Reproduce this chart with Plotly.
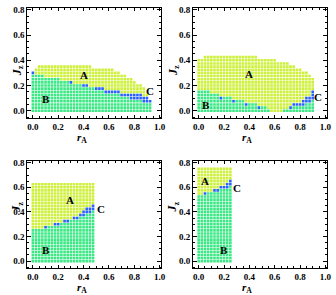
import plotly.graph_objects as go

STEP = 0.025

# ---- Panel 1 ----
r1 = [0, .025, .05, .075, .1, .125, .15, .175, .2, .225, .25, .275, .3, .325, .35, .375, .4, .425, .45,
      .475, .5, .525, .55, .575, .6, .625, .65, .675, .7, .725, .75, .775, .8, .825, .85, .875, .9, .925]
top1 = [.30, .325] + [.35] * 17 + [.325] * 7 + [.30, .30, .275, .275, .25, .25, .225, .20, .20, .175, .125, .075]
b1 = [.275] * 4 + [.25] * 5 + [.225] * 3 + [.20] * 4 + [.175] * 4 + [.15] * 3 + [.125] * 5 + [.10] * 3 + [.075] * 4 + [.05] * 3
c1_r = [0, .3, .4, .425, .5, .525, .55, .575, .6, .625, .65, .675, .7, .725, .75, .775, .8, .825, .85,
        .775, .8, .825, .85, .875, .9, .875, .9, .925]
c1_J = [.30, .225, .20, .20, .175, .175, .175, .15, .15, .15, .15, .15, .125, .125, .125, .125, .125, .125, .125,
        .10, .10, .10, .10, .10, .10, .075, .075, .075]

# ---- Panel 2 ----
r2 = [0, .025, .05, .075, .1, .125, .15, .175, .2, .225, .25, .275, .3, .325, .35, .375, .4, .425, .45,
      .475, .5, .525, .55, .575, .6, .625, .65, .675, .7, .725, .75, .775, .8, .825, .85, .875, .9]
top2 = [.40, .40] + [.425] * 17 + [.40] * 6 + [.375] * 4 + [.35, .35, .325, .325, .30, .30, .275, .25]
b2 = [.15] * 4 + [.125] * 3 + [.10] * 4 + [.075] * 4 + [.05] * 4 + [.025] * 3 + [0] + [-1] * 4 + [0, 0] + [.025] * 5 + [.05, .05, .075]
c2_r = [.175, .275, .375, .475, .725, .75, .775, .8, .825, .825, .85, .875, .85, .875, .9, .9, .9]
c2_J = [.10, .075, .05, .025, .025, .05, .05, .05, .05, .075, .075, .075, .10, .10, .10, .125, .15]

# ---- Panel 3 ----
r3 = [0, .025, .05, .075, .1, .125, .15, .175, .2, .225, .25, .275, .3, .325, .35, .375, .4, .425, .45, .475]
top3 = [.625] * 20
b3 = [.25] * 5 + [.275] * 4 + [.30] * 3 + [.325] * 3 + [.35, .35, .375, .375, .40]
c3_r = [.1, .175, .2, .25, .275, .325, .35, .375, .4, .4, .425, .45, .425, .45, .475, .475]
c3_J = [.275, .30, .30, .325, .325, .35, .35, .375, .375, .40, .40, .40, .425, .425, .425, .45]

# ---- Panel 4 ----
r4 = [0, .025, .05, .075, .1, .125, .15, .175, .2, .225, .25]
top4 = [.75] * 11
b4 = [.525] * 3 + [.55] * 4 + [.575] * 3 + [.60]
c4_r = [.05, .125, .15, .175, .2, .225, .225, .25, .25]
c4_J = [.55, .575, .575, .60, .60, .60, .625, .625, .65]

panels = [
    dict(r=r1, top=top1, b=b1, cr=c1_r, cJ=c1_J,
         lab=[("A", .40, .28), ("B", .10, .09), ("C", .925, .155)]),
    dict(r=r2, top=top2, b=b2, cr=c2_r, cJ=c2_J,
         lab=[("A", .40, .295), ("B", .06, .045), ("C", .945, .11)]),
    dict(r=r3, top=top3, b=b3, cr=c3_r, cJ=c3_J,
         lab=[("A", .29, .50), ("B", .10, .093), ("C", .54, .424)]),
    dict(r=r4, top=top4, b=b4, cr=c4_r, cJ=c4_J,
         lab=[("A", .05, .653), ("B", .20, .093), ("C", .305, .595)]),
]

YEL = "#cdf03a"
GRN = "#3ae884"
BLU = "#2a62ff"
FONT = "Liberation Serif, Times New Roman, serif"

W, H = 336, 295
xdom = [[27.7 / W, 163.3 / W], [196 / W, 331.6 / W]]
ydom = [[1 - 116.5 / H, 1 - 5 / H], [1 - 268.2 / H, 1 - 159.5 / H]]
title_gap = [20, 19.5]

fig = go.Figure()


def build(p):
    cset = set((round(r / STEP), round(j / STEP)) for r, j in zip(p["cr"], p["cJ"]))
    A = ([], [])
    B = ([], [])
    for r, t, bb in zip(p["r"], p["top"], p["b"]):
        n = round(t / STEP)
        for k in range(n + 1):
            J = k * STEP
            if (round(r / STEP), k) in cset:
                continue
            if J <= bb + 1e-9:
                B[0].append(r); B[1].append(J)
            else:
                A[0].append(r); A[1].append(J)
    return A, B


for idx, p in enumerate(panels):
    row, col = idx // 2, idx % 2
    ax = "" if idx == 0 else str(idx + 1)
    A, B = build(p)
    mk = dict(symbol="square", size=2.6, line=dict(width=0))
    for (xs, ys), c in [(A, YEL), (B, GRN), ((p["cr"], p["cJ"]), BLU)]:
        fig.add_trace(go.Scatter(x=xs, y=ys, mode="markers", marker=dict(color=c, **mk),
                                 xaxis="x" + ax, yaxis="y" + ax, showlegend=False, hoverinfo="skip"))
    for t, x, y in p["lab"]:
        fig.add_annotation(x=x, y=y, xref="x" + ax, yref="y" + ax, text="<b>%s</b>" % t, showarrow=False,
                           font=dict(family=FONT, size=11, color="black"))
    common = dict(showline=True, linecolor="black", linewidth=1, mirror="ticks", ticks="inside",
                  ticklen=3.5, tickwidth=0.8, tickcolor="black", showgrid=False, zeroline=False,
                  tickfont=dict(family=FONT, size=9, color="black"),
                  minor=dict(ticks="inside", ticklen=2, tickwidth=0.6, tickcolor="black", dtick=0.05, showgrid=False))
    fig.update_layout(**{
        "xaxis" + ax: dict(domain=xdom[col], range=[-0.044, 1.01], tickvals=[0, .2, .4, .6, .8, 1.0],
                           ticktext=["<b>0.0</b>", "<b>0.2</b>", "<b>0.4</b>", "<b>0.6</b>", "<b>0.8</b>", "<b>1.0</b>"],
                           anchor="y" + ax, **common),
        "yaxis" + ax: dict(domain=ydom[row], range=[-0.06, 0.815], tickvals=[0, .2, .4, .6, .8],
                           ticktext=["<b>0.0</b>", "<b>0.2</b>", "<b>0.4</b>", "<b>0.6</b>", "<b>0.8</b>"],
                           anchor="x" + ax, **common),
    })
    # axis titles
    fig.add_annotation(x=0.385, y=ydom[row][0] - title_gap[row] / H, xref="x" + ax, yref="paper", yanchor="middle",
                       text="<b><i>r</i><sub>A</sub></b>", showarrow=False,
                       font=dict(family=FONT, size=11, color="black"))
    fig.add_annotation(x=xdom[col][0] - 20 / W, y=(ydom[row][0] + ydom[row][1]) / 2, xref="paper", yref="paper",
                       text="<b><i>J</i><sub>z</sub></b>", showarrow=False, textangle=-90,
                       font=dict(family=FONT, size=12, color="black"))

fig.update_layout(width=W, height=H, margin=dict(l=0, r=0, t=0, b=0),
                  paper_bgcolor="white", plot_bgcolor="white")
fig.write_html("out.html", config={"displayModeBar": False},
               post_script="document.body.style.margin='0';document.body.style.padding='0';")
